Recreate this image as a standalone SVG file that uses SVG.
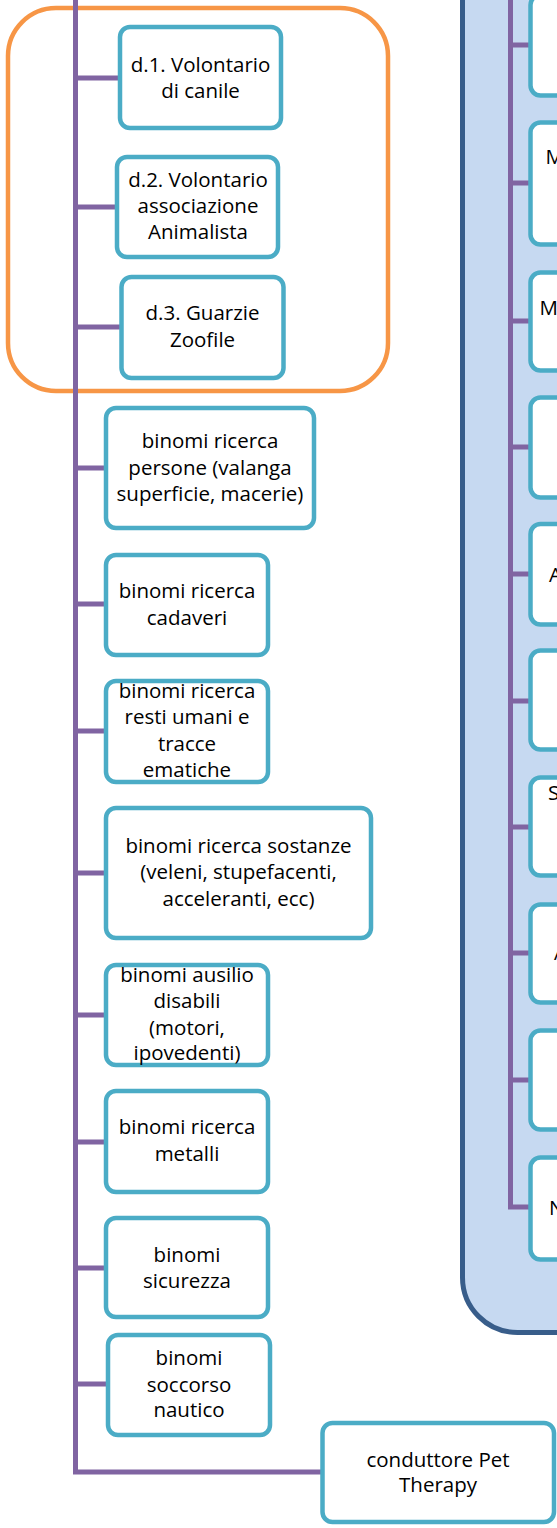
<svg xmlns="http://www.w3.org/2000/svg" width="557" height="1528" viewBox="0 0 557 1528">
<style>
.box{fill:#FFFFFF;stroke:#4BACC6;stroke-width:4.5}
.conn{fill:none;stroke:#8064A2;stroke-width:5;stroke-linejoin:miter}
.t{font-family:"Open Sans","Noto Sans",sans-serif;font-size:20.5px;fill:#000000;text-anchor:middle}
.ts{font-family:"Open Sans","Noto Sans",sans-serif;font-size:20.5px;fill:#000000}
</style>
<rect width="557" height="1528" fill="#FFFFFF"/>
<g id="panel-right">
<rect x="462.5" y="-80" width="200" height="1412.5" rx="55" ry="55" fill="#C6D9F1" stroke="#385D8A" stroke-width="5"/>
</g>
<g id="group-d">
<rect x="8" y="8" width="380" height="383" rx="48" ry="48" fill="none" stroke="#F79646" stroke-width="4.5"/>
</g>
<g id="connectors">
<path class="conn" d="M75.5 -5 V1472 H322.5"/>
<path class="conn" d="M75.5 78 H120 M75.5 207 H117 M75.5 327 H121.5 M75.5 468 H106 M75.5 604 H106 M75.5 731 H106 M75.5 873 H106 M75.5 1015 H106 M75.5 1142 H106 M75.5 1268 H106 M75.5 1384 H108"/>
<path class="conn" d="M510.5 -5 V1207 H530.5"/>
<path class="conn" d="M510.5 45 H530.5 M510.5 183 H530.5 M510.5 321 H530.5 M510.5 447 H530.5 M510.5 574 H530.5 M510.5 701 H530.5 M510.5 827 H530.5 M510.5 953 H530.5 M510.5 1080 H530.5"/>
</g>
<g id="n-d1"><rect class="box" x="120" y="27" width="161" height="101" rx="10"/><text class="t" x="200.5" y="72">d.1. Volontario</text><text class="t" x="200.5" y="98">di canile</text></g>
<g id="n-d2"><rect class="box" x="117" y="157" width="161" height="100" rx="10"/><text class="t" x="198" y="187">d.2. Volontario</text><text class="t" x="198" y="213">associazione</text><text class="t" x="198" y="239">Animalista</text></g>
<g id="n-d3"><rect class="box" x="121.5" y="277" width="162" height="101" rx="10"/><text class="t" x="202.5" y="320">d.3. Guarzie</text><text class="t" x="202.5" y="347">Zoofile</text></g>
<g id="n-persone"><rect class="box" x="106" y="408" width="208" height="120" rx="10"/><text class="t" x="210" y="448">binomi ricerca</text><text class="t" x="210" y="475">persone (valanga</text><text class="t" x="210" y="501">superficie, macerie)</text></g>
<g id="n-cadaveri"><rect class="box" x="106" y="555" width="162" height="100" rx="10"/><text class="t" x="187" y="598">binomi ricerca</text><text class="t" x="187" y="625">cadaveri</text></g>
<g id="n-resti"><rect class="box" x="106" y="681" width="162" height="101" rx="10"/><text class="t" x="187" y="698">binomi ricerca</text><text class="t" x="187" y="724">resti umani e</text><text class="t" x="187" y="751">tracce</text><text class="t" x="187" y="777">ematiche</text></g>
<g id="n-sostanze"><rect class="box" x="106" y="808" width="265" height="130" rx="10"/><text class="t" x="238.5" y="853">binomi ricerca sostanze</text><text class="t" x="238.5" y="879">(veleni, stupefacenti,</text><text class="t" x="238.5" y="906">acceleranti, ecc)</text></g>
<g id="n-ausilio"><rect class="box" x="106" y="965" width="162" height="100" rx="10"/><text class="t" x="187" y="982">binomi ausilio</text><text class="t" x="187" y="1008">disabili</text><text class="t" x="187" y="1035">(motori,</text><text class="t" x="187" y="1060">ipovedenti)</text></g>
<g id="n-metalli"><rect class="box" x="106" y="1091" width="162" height="101" rx="10"/><text class="t" x="187" y="1134">binomi ricerca</text><text class="t" x="187" y="1161">metalli</text></g>
<g id="n-sicurezza"><rect class="box" x="106" y="1218" width="162" height="99" rx="10"/><text class="t" x="187" y="1262">binomi</text><text class="t" x="187" y="1288">sicurezza</text></g>
<g id="n-soccorso"><rect class="box" x="108" y="1335" width="162" height="100" rx="10"/><text class="t" x="189" y="1365">binomi</text><text class="t" x="189" y="1392">soccorso</text><text class="t" x="189" y="1417">nautico</text></g>
<g id="n-pet"><rect class="box" x="322.5" y="1423" width="231.5" height="99" rx="10"/><text class="t" x="438" y="1467">conduttore Pet</text><text class="t" x="438" y="1492">Therapy</text></g>
<g id="n-r1"><rect class="box" x="530.5" y="-5" width="120" height="100.5" rx="10"/></g>
<g id="n-r2"><rect class="box" x="530.5" y="122.5" width="120" height="122" rx="10"/><text class="ts" x="545.5" y="164">M</text></g>
<g id="n-r3"><rect class="box" x="530.5" y="272.5" width="120" height="98" rx="10"/><text class="ts" x="539.5" y="315">M</text></g>
<g id="n-r4"><rect class="box" x="530.5" y="397.5" width="120" height="100" rx="10"/></g>
<g id="n-r5"><rect class="box" x="530.5" y="524" width="120" height="100.5" rx="10"/><text class="ts" x="549" y="582">A</text></g>
<g id="n-r6"><rect class="box" x="530.5" y="650.5" width="120" height="99" rx="10"/></g>
<g id="n-r7"><rect class="box" x="530.5" y="777.5" width="120" height="98" rx="10"/><text class="ts" x="548" y="800">S</text></g>
<g id="n-r8"><rect class="box" x="530.5" y="904.5" width="120" height="98" rx="10"/><text class="ts" x="554" y="960">A</text></g>
<g id="n-r9"><rect class="box" x="530.5" y="1030.5" width="120" height="99" rx="10"/></g>
<g id="n-r10"><rect class="box" x="530.5" y="1157.5" width="120" height="102" rx="10"/><text class="ts" x="549" y="1215">N</text></g>
</svg>
